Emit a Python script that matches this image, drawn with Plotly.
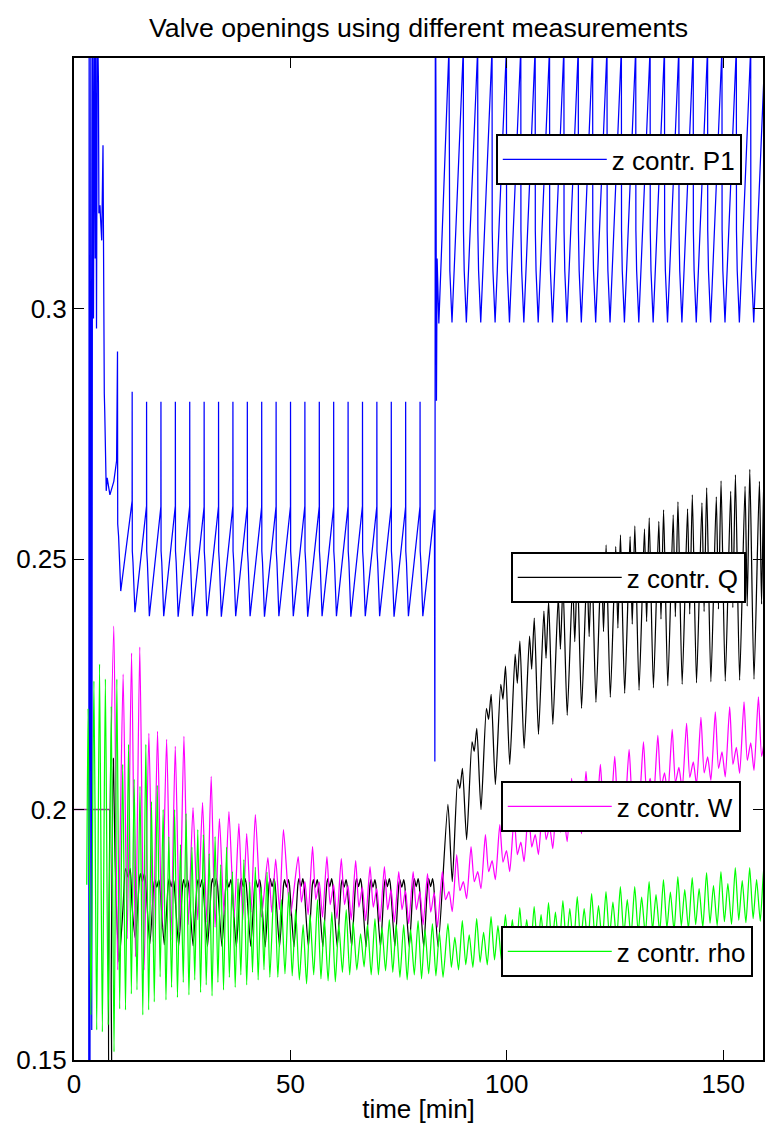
import plotly.graph_objects as go

FONT = "Liberation Sans, Arial, Helvetica, sans-serif"

# ---------------- text / ticks ----------------
TITLE = "Valve openings using different measurements"
X_LABEL = "time [min]"
SERIES_NAMES = ["z contr. P1", "z contr. Q", "z contr. W", "z contr. rho"]
SERIES_COLORS = ["#0000ff", "#000000", "#ff00ff", "#00ff00"]
X_TICK_VALUES = [0, 50, 100, 150]
Y_TICK_VALUES = [0.15, 0.2, 0.25, 0.3]
Y_TICK_LABELS = ["0.15", "0.2", "0.25", "0.3"]

# common initial value (Q and W overlap at 0.2)
INITIAL_T = [0.0, 8.3]
INITIAL_V = [0.2, 0.2]

# ---------------- z contr. P1 (blue) ----------------
P1_START_T = [0.0, 3.4, 3.5, 3.7, 3.9, 4.1, 4.3, 4.5, 4.7, 4.9, 5.0, 5.2, 5.4, 5.65, 5.75,
              6.0, 6.1, 6.4, 6.7, 6.8, 7.0, 7.1, 7.45, 7.67, 8.3, 9.2, 9.84, 10.05, 10.1, 10.3, 10.8]
P1_START_V = [0.12, 0.12, 0.36, 0.15, 0.36, 0.156, 0.36, 0.298, 0.36, 0.31, 0.36, 0.296, 0.36, 0.345, 0.319,
              0.3206, 0.3186, 0.3136, 0.3326, 0.296, 0.283, 0.2796, 0.2636, 0.2662, 0.2628, 0.2655, 0.2696, 0.2914, 0.257, 0.2546, 0.2436]
# first regime: spike times, ramp tops, spike tops, troughs
P1_A_SPIKE_T = [13.43, 16.76, 20.08, 23.41, 26.73, 30.06, 33.39, 36.71, 40.04, 43.36, 46.69,
                50.02, 53.34, 56.67, 59.99, 63.32, 66.65, 69.97, 73.30, 76.62, 79.95]
P1_A_RAMP_V = [0.2616, 0.2606, 0.2605, 0.2606, 0.2605, 0.2604, 0.2605, 0.2606, 0.2605, 0.2604, 0.2605,
               0.2605, 0.2606, 0.2605, 0.2604, 0.2605, 0.2606, 0.2605, 0.2605, 0.2604, 0.2605]
P1_A_PEAK_V = [0.2834, 0.2814, 0.2814, 0.2814, 0.2814, 0.2814, 0.2814, 0.2814, 0.2814, 0.2814, 0.2814,
               0.2814, 0.2814, 0.2814, 0.2814, 0.2814, 0.2814, 0.2814, 0.2814, 0.2814, 0.2814]
P1_A_STEP_HI = 0.2516
P1_A_STEP_LO = 0.2493
P1_A_TROUGH_V = [0.2394, 0.2386, 0.2386, 0.2385, 0.2386, 0.2386, 0.2385, 0.2386, 0.2386, 0.2385, 0.2386,
                 0.2386, 0.2385, 0.2386, 0.2386, 0.2385, 0.2386, 0.2386, 0.2385, 0.2386, 0.2386]
# set-point change
P1_JUMP_T = [83.28, 83.3, 83.38, 83.5, 83.62, 83.75, 83.9, 84.3]
P1_JUMP_V = [0.2598, 0.37, 0.2096, 0.37, 0.3436, 0.2816, 0.31, 0.297]
# second regime
P1_B_SPIKE_T = [86.64, 89.96, 93.28, 96.60, 99.92, 103.24, 106.56, 109.88, 113.20, 116.52, 119.84,
                123.16, 126.48, 129.80, 133.12, 136.44, 139.76, 143.08, 146.40, 149.72, 153.04, 156.36]
P1_B_TOP = 0.352
P1_B_STEP_HI = 0.3156
P1_B_STEP_LO = 0.3076
P1_B_TROUGH = 0.2972
P1_END_T = [159.68]
P1_END_V = [0.352]

# ---------------- z contr. Q (black) ----------------
Q_START_T = [8.3, 8.32, 8.5, 8.6, 9.1, 9.5, 10.4, 11.3, 11.9, 12.5, 13.0, 13.4]
Q_START_V = [0.2, 0.14, 0.14, 0.166, 0.2102, 0.19, 0.1696, 0.18, 0.1882, 0.1865, 0.1882, 0.181]
Q_A_BOTTOM_T = [14.2, 17.53, 20.86, 24.19, 27.52, 30.85, 34.18, 37.51, 40.84, 44.17, 47.5,
                50.83, 54.16, 57.49, 60.82, 64.15, 67.48, 70.81, 74.14, 77.47, 80.8]
Q_A_BOTTOM_V = [0.1742, 0.1732, 0.173, 0.1728, 0.1728, 0.1727, 0.1727, 0.1726, 0.1727, 0.1726, 0.1726,
                0.1726, 0.1726, 0.1726, 0.1726, 0.1727, 0.1726, 0.1726, 0.1727, 0.1726, 0.1726]
Q_A_TOP_V = [0.1872, 0.186, 0.1862, 0.186, 0.186, 0.1862, 0.186, 0.1862, 0.186, 0.1862, 0.186,
             0.1862, 0.186, 0.1862, 0.186, 0.1862, 0.186, 0.1862, 0.186, 0.1862, 0.1862]
Q_A_NOTCH_V = [0.1856, 0.1845, 0.1846, 0.1845, 0.1845, 0.1846, 0.1845, 0.1846, 0.1845, 0.1846, 0.1845,
               0.1846, 0.1845, 0.1846, 0.1845, 0.1846, 0.1845, 0.1846, 0.1845, 0.1846, 0.1846]
Q_MID_T = [84.13, 86.4]
Q_MID_V = [0.1726, 0.201]
Q_B_TROUGH_T = [87.4, 90.72, 94.04, 97.36, 100.68, 104.0, 107.32, 110.64, 113.96, 117.28, 120.6,
                123.92, 127.24, 130.56, 133.88, 137.2, 140.52, 143.84, 147.16, 150.48, 153.8, 157.12]
Q_B_TROUGH_V = [0.1856, 0.194, 0.2, 0.205, 0.209, 0.2122, 0.215, 0.217, 0.2188, 0.2202, 0.2214,
                0.2224, 0.2232, 0.2238, 0.2243, 0.2247, 0.225, 0.2253, 0.2255, 0.2256, 0.2258, 0.226]
Q_B_PEAK1_V = [0.206, 0.2135, 0.2202, 0.225, 0.231, 0.2346, 0.2396, 0.2425, 0.2455, 0.248, 0.2505,
               0.2525, 0.2545, 0.256, 0.2575, 0.2588, 0.26, 0.2612, 0.2624, 0.2635, 0.2645, 0.2655]
Q_B_DIP_V = [0.2042, 0.2116, 0.218, 0.222, 0.2252, 0.228, 0.2302, 0.232, 0.2335, 0.2345, 0.2355,
             0.2362, 0.237, 0.2375, 0.238, 0.2385, 0.239, 0.2395, 0.24, 0.2403, 0.2406, 0.241]
Q_B_PEAK2_V = [0.2082, 0.2162, 0.223, 0.2286, 0.2336, 0.2382, 0.2416, 0.245, 0.248, 0.2505, 0.2528,
               0.2548, 0.2566, 0.2582, 0.2598, 0.2614, 0.2628, 0.2642, 0.2656, 0.2668, 0.2679, 0.269]
Q_END_T = [160.44]
Q_END_V = [0.2261]

# ---------------- z contr. W (magenta) ----------------
W_A_PEAK_T = [9.2, 11.35, 13.3, 15.2, 17.3, 19.3, 21.4, 23.4, 25.4, 27.5, 29.7, 31.7, 33.6, 35.8,
              38.1, 39.9, 41.9, 44.8, 46.6, 48.4]
W_A_PEAK_V = [0.2366, 0.227, 0.2312, 0.2324, 0.2152, 0.2156, 0.214, 0.2126, 0.2146, 0.2004, 0.2014,
              0.2066, 0.1982, 0.1996, 0.1972, 0.1952, 0.199, 0.1904, 0.1901, 0.196]
W_A_TROUGH_T = [10.1, 12.3, 14.2, 16.2, 18.3, 20.3, 22.4, 24.4, 26.4, 28.6, 30.7, 32.6, 34.7, 37.0,
                39.0, 40.9, 43.3, 45.7, 47.5, 50.0]
W_A_TROUGH_V = [0.168, 0.1742, 0.1706, 0.168, 0.1736, 0.1762, 0.174, 0.1755, 0.177, 0.178, 0.1775,
                0.1765, 0.179, 0.1785, 0.178, 0.1795, 0.1785, 0.1795, 0.18, 0.1788]
W_B_T = [51.8, 55.12, 58.44, 61.76, 65.08, 68.4, 71.72, 75.04, 78.36, 81.68]
W_B_PEAK_V = [0.1906, 0.1926, 0.1906, 0.1902, 0.1898, 0.1886, 0.1886, 0.1876, 0.1876, 0.1872]
W_B_DIP_V = [0.1815, 0.182, 0.181, 0.181, 0.1805, 0.1805, 0.18, 0.18, 0.18, 0.1795]
W_B_SEC_V = [0.1856, 0.1855, 0.185, 0.1848, 0.1845, 0.1842, 0.184, 0.1838, 0.1836, 0.1834]
W_B_LOW_V = [0.179, 0.1785, 0.1782, 0.178, 0.1778, 0.1776, 0.1775, 0.1772, 0.177, 0.1765]
W_C_T = [85.1, 88.42, 91.74, 95.06, 98.38, 101.7, 105.02, 108.34, 111.66, 114.98, 118.3, 121.62,
         124.94, 128.26, 131.58, 134.9, 138.22, 141.54, 144.86, 148.18, 151.5, 154.82, 158.14]
W_C_PEAK_V = [0.1876, 0.191, 0.1926, 0.195, 0.197, 0.1985, 0.2, 0.2015, 0.204, 0.2062, 0.2076, 0.209,
              0.2106, 0.212, 0.2135, 0.2148, 0.216, 0.2172, 0.2184, 0.2195, 0.2205, 0.2215, 0.2225]
W_C_DIP_V = [0.182, 0.1838, 0.1856, 0.1876, 0.1895, 0.191, 0.1925, 0.194, 0.1955, 0.197, 0.1985, 0.1998,
             0.201, 0.2022, 0.2033, 0.2044, 0.2054, 0.2064, 0.2073, 0.2082, 0.209, 0.2098, 0.2106]
W_C_SEC_V = [0.1836, 0.1856, 0.1876, 0.1898, 0.1918, 0.1935, 0.195, 0.1965, 0.198, 0.1998, 0.2012, 0.2025,
             0.2038, 0.205, 0.2062, 0.2073, 0.2084, 0.2095, 0.2105, 0.2115, 0.2124, 0.2133, 0.2142]
W_C_LOW_V = [0.1796, 0.1822, 0.1842, 0.186, 0.1876, 0.1896, 0.191, 0.1922, 0.1936, 0.1952, 0.197, 0.1985,
             0.1998, 0.201, 0.202, 0.203, 0.204, 0.205, 0.2058, 0.2065, 0.2072, 0.2078, 0.2082]

# ---------------- z contr. rho (green) ----------------
RHO_START_T = [2.95]
RHO_START_V = [0.185]
RHO_A_PEAK_T = [3.25, 4.6, 5.9, 7.25, 8.6, 9.9, 11.25, 12.6, 13.9, 15.25, 16.6, 17.9, 19.25, 20.6, 21.9,
                23.25, 24.6, 25.9, 27.25, 28.6, 29.9, 31.25, 32.6, 33.9, 35.25, 36.6, 37.9, 39.25,
                40.6, 41.9, 43.25, 44.6]
RHO_A_PEAK_V = [0.2202, 0.2256, 0.229, 0.226, 0.2206, 0.226, 0.209, 0.213, 0.206, 0.2046, 0.213, 0.2016,
                0.2048, 0.2, 0.1946, 0.2, 0.193, 0.1992, 0.1925, 0.196, 0.195, 0.1912, 0.1946, 0.189,
                0.1925, 0.1876, 0.1862, 0.19, 0.1855, 0.1885, 0.1845, 0.1875]
RHO_A_TROUGH_V = [0.159, 0.156, 0.1556, 0.157, 0.1516, 0.1602, 0.16, 0.1632, 0.164, 0.159, 0.16, 0.1616,
                  0.1666, 0.162, 0.1645, 0.1625, 0.1655, 0.163, 0.166, 0.1635, 0.165, 0.1628, 0.1655,
                  0.164, 0.1665, 0.1645, 0.167, 0.165, 0.1675, 0.166, 0.168, 0.1665]
RHO_B_T = [46.3, 49.62, 52.94, 56.26, 59.58, 62.9, 66.22, 69.54, 72.86, 76.18, 79.5, 82.82]
RHO_B_PEAK_V = [0.186, 0.1835, 0.177, 0.182, 0.1795, 0.18, 0.1752, 0.1782, 0.178, 0.177, 0.1778, 0.1772]
RHO_B_LOW1_V = [0.1665, 0.1668, 0.1652, 0.1662, 0.1656, 0.167, 0.1686, 0.167, 0.1675, 0.166, 0.1662, 0.1668]
RHO_B_SEC_V = [0.182, 0.18, 0.179, 0.178, 0.177, 0.1775, 0.177, 0.1765, 0.177, 0.176, 0.176, 0.1755]
RHO_B_LOW2_V = [0.1672, 0.166, 0.167, 0.1658, 0.1675, 0.168, 0.167, 0.1678, 0.1665, 0.167, 0.1672, 0.1665]
RHO_C_T = [86.4, 89.72, 93.04, 96.36, 99.68, 103.0, 106.32, 109.64, 112.96, 116.28, 119.6, 122.92,
           126.24, 129.56, 132.88, 136.2, 139.52, 142.84, 146.16, 149.48, 152.8, 156.12, 159.44]
RHO_C_PEAK_V = [0.1772, 0.1778, 0.1782, 0.1786, 0.179, 0.1804, 0.1806, 0.1814, 0.1818, 0.1826, 0.1832,
                0.1836, 0.1846, 0.1846, 0.1856, 0.186, 0.1866, 0.1864, 0.1874, 0.1876, 0.1884, 0.1884, 0.189]
RHO_C_LOW1_V = [0.1685, 0.169, 0.1695, 0.17, 0.1708, 0.1715, 0.172, 0.1725, 0.173, 0.1735, 0.174, 0.1745,
                0.175, 0.1755, 0.176, 0.1763, 0.1767, 0.177, 0.1773, 0.1776, 0.1779, 0.1782, 0.1785]
RHO_C_SEC_V = [0.1745, 0.175, 0.1755, 0.1768, 0.178, 0.178, 0.179, 0.1795, 0.1802, 0.1802, 0.1808, 0.1815,
               0.182, 0.1825, 0.183, 0.1835, 0.184, 0.1842, 0.1848, 0.1852, 0.1858, 0.186, 0.1865]
RHO_C_LOW2_V = [0.168, 0.1685, 0.169, 0.1696, 0.1702, 0.171, 0.1716, 0.172, 0.1726, 0.173, 0.1735, 0.174,
                0.1745, 0.175, 0.1755, 0.1758, 0.1762, 0.1765, 0.1768, 0.1771, 0.1774, 0.1777, 0.178]


def cycles(starts, offsets, columns):
    """Expand per-cycle readings into (t, v) vertices; a column may be a list or one value."""
    t, v = [], []
    for i, s in enumerate(starts):
        for off, col in zip(offsets, columns):
            t.append(s + off)
            v.append(col[i] if isinstance(col, list) else col)
    return t, v


def interleave(t1, v1, t2, v2):
    t, v = [], []
    for a, b, c, d in zip(t1, v1, t2, v2):
        t += [a, c]
        v += [b, d]
    return t, v


def join(*parts):
    t, v = [], []
    for pt, pv in parts:
        t += list(pt)
        v += list(pv)
    return t, v


p1_t, p1_v = join(
    (P1_START_T, P1_START_V),
    cycles(P1_A_SPIKE_T, [0.0, 0.01, 0.04, 0.2, 0.65],
           [P1_A_RAMP_V, P1_A_PEAK_V, P1_A_STEP_HI, P1_A_STEP_LO, P1_A_TROUGH_V]),
    (P1_JUMP_T, P1_JUMP_V),
    cycles(P1_B_SPIKE_T, [0.0, 0.03, 0.2, 0.7],
           [P1_B_TOP, P1_B_STEP_HI, P1_B_STEP_LO, P1_B_TROUGH]),
    (P1_END_T, P1_END_V),
)

q_t, q_v = join(
    (Q_START_T, Q_START_V),
    cycles(Q_A_BOTTOM_T, [0.0, 0.9, 1.15, 1.6, 2.05, 2.3],
           [Q_A_BOTTOM_V, [x - 0.0012 for x in Q_A_TOP_V], Q_A_TOP_V, Q_A_NOTCH_V, Q_A_TOP_V,
            [x - 0.0012 for x in Q_A_TOP_V]]),
    (Q_MID_T, Q_MID_V),
    cycles(Q_B_TROUGH_T, [0.0, 1.25, 1.75, 2.35],
           [Q_B_TROUGH_V, Q_B_PEAK1_V, Q_B_DIP_V, Q_B_PEAK2_V]),
    (Q_END_T, Q_END_V),
)

w_t, w_v = join(
    ([INITIAL_T[-1]], [INITIAL_V[-1]]),
    interleave(W_A_PEAK_T, W_A_PEAK_V, W_A_TROUGH_T, W_A_TROUGH_V),
    cycles(W_B_T, [0.0, 0.75, 1.55, 2.3], [W_B_PEAK_V, W_B_DIP_V, W_B_SEC_V, W_B_LOW_V]),
    cycles(W_C_T, [0.0, 0.75, 1.55, 2.3], [W_C_PEAK_V, W_C_DIP_V, W_C_SEC_V, W_C_LOW_V]),
)

rho_t, rho_v = join(
    (RHO_START_T, RHO_START_V),
    cycles(RHO_A_PEAK_T, [0.0, 0.65], [RHO_A_PEAK_V, RHO_A_TROUGH_V]),
    cycles(RHO_B_T, [0.0, 0.8, 1.6, 2.45], [RHO_B_PEAK_V, RHO_B_LOW1_V, RHO_B_SEC_V, RHO_B_LOW2_V]),
    cycles(RHO_C_T, [0.0, 0.8, 1.6, 2.45], [RHO_C_PEAK_V, RHO_C_LOW1_V, RHO_C_SEC_V, RHO_C_LOW2_V]),
)

fig = go.Figure()
fig.add_trace(go.Scatter(x=INITIAL_T, y=INITIAL_V, mode="lines", showlegend=False,
                         line=dict(color="#a020a0", width=1.6), hoverinfo="skip"))
series = [(p1_t, p1_v, "linear"), (q_t, q_v, "spline"), (w_t, w_v, "spline"), (rho_t, rho_v, "spline")]
legend_ids = ["legend", "legend2", "legend3", "legend4"]
for (t, v, shape), name, color, lid in zip(series, SERIES_NAMES, SERIES_COLORS, legend_ids):
    fig.add_trace(go.Scatter(x=t, y=v, mode="lines", name=name, legend=lid,
                             line=dict(color=color, width=1.25, shape=shape, smoothing=0.6)))

FIG_W, FIG_H = 765, 1136
legend_style = dict(bgcolor="white", bordercolor="black", borderwidth=2,
                    font=dict(family=FONT, size=26, color="black"),
                    itemwidth=104, xanchor="left", yanchor="top", itemclick=False,
                    itemdoubleclick=False)
axis_common = dict(showline=True, linecolor="black", linewidth=2, mirror="ticks",
                   ticks="inside", ticklen=10, tickwidth=1, tickcolor="black",
                   showgrid=False, zeroline=False,
                   tickfont=dict(family=FONT, size=26, color="black"))

fig.update_layout(
    width=FIG_W, height=FIG_H,
    margin=dict(l=74, r=0, t=58, b=76),
    paper_bgcolor="white", plot_bgcolor="white",
    font=dict(family=FONT, size=26, color="black"),
    title=dict(text=TITLE, x=0.5, xref="paper", xanchor="center", y=1 - 28 / FIG_H,
               yanchor="middle", yref="container", font=dict(family=FONT, size=26.7, color="black")),
    xaxis=dict(range=[0, 159.2], tickvals=X_TICK_VALUES,
               title=dict(text=X_LABEL, font=dict(family=FONT, size=26, color="black"), standoff=2),
               **axis_common),
    yaxis=dict(range=[0.15, 0.35], tickvals=Y_TICK_VALUES, ticktext=Y_TICK_LABELS, **axis_common),
    legend=dict(x=(497 - 74) / 691, y=(1060 - 134) / 1002, **legend_style),
    legend2=dict(x=(512 - 74) / 691, y=(1060 - 552) / 1002, **legend_style),
    legend3=dict(x=(502 - 74) / 691, y=(1060 - 781) / 1002, **legend_style),
    legend4=dict(x=(502 - 74) / 691, y=(1060 - 926) / 1002, **legend_style),
    showlegend=True,
)

# remove the page's default 8 px body margin so the figure sits at the window origin
fig.write_html("out.html", config={"displayModeBar": False},
               post_script="document.body.style.margin='0';")
